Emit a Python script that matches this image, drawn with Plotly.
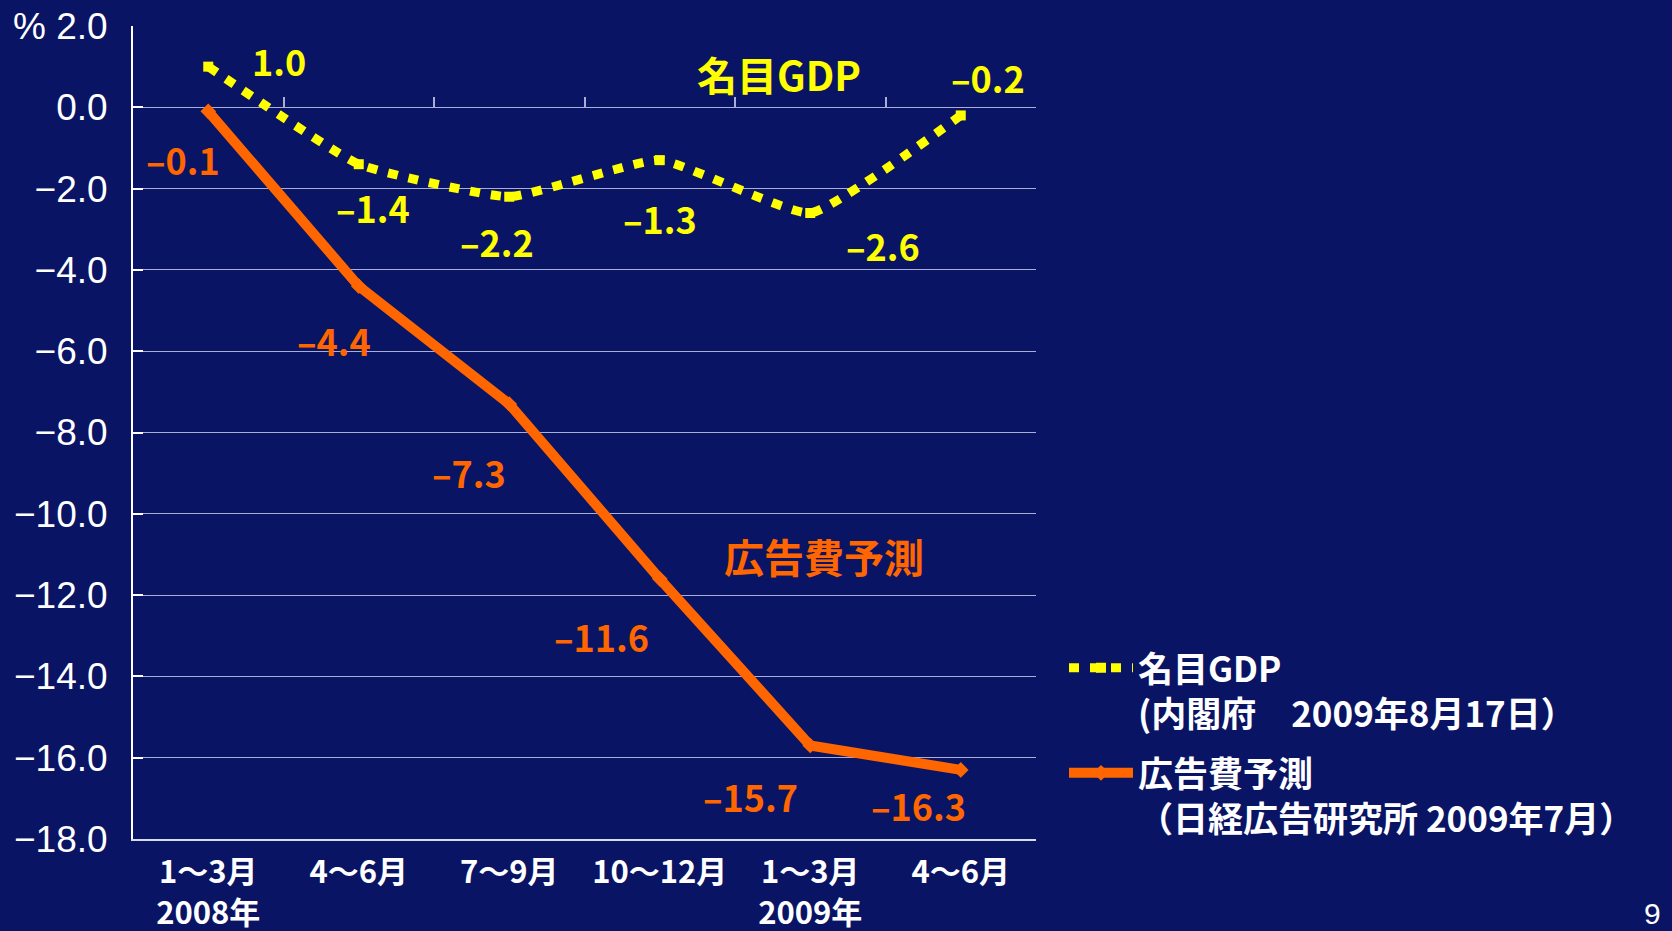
import plotly.graph_objects as go

categories = ["2008Q1", "2008Q2", "2008Q3", "2008Q4", "2009Q1", "2009Q2"]
tick_labels = ["1〜3月<br>2008年", "4〜6月", "7〜9月", "10〜12月", "1〜3月<br>2009年", "4〜6月"]
gdp = [1.0, -1.4, -2.2, -1.3, -2.6, -0.2]
ad = [-0.1, -4.4, -7.3, -11.6, -15.7, -16.3]
y_ticks = [2, 0, -2, -4, -6, -8, -10, -12, -14, -16, -18]

gdp_name = "名目GDP<br>(内閣府　2009年8月17日）"
ad_name = "広告費予測<br>（日経広告研究所 2009年7月）"

BG = "#0a1464"
YEL = "#ffff00"
ORG = "#ff6600"
GRID = "#a9aed6"
JP = "Noto Sans CJK JP"

def fmt(v):
    s = f"{abs(v):.1f}"
    return ("–" + s) if v < 0 else s

def ytxt(v):
    s = f"{abs(v):.1f}"
    if v < 0:
        s = "−" + s
    if v == 2:
        s = "% " + s
    return s

fig = go.Figure()
fig.add_trace(go.Scatter(
    x=categories, y=gdp, name=gdp_name, mode="lines+markers",
    line=dict(color=YEL, width=9, dash="10px,11px", shape="spline", smoothing=0.4),
    marker=dict(symbol="square", size=10, color=YEL),
    xaxis="x2", yaxis="y", legendgroup="g1",
))
fig.add_trace(go.Scatter(
    x=categories, y=ad, name=ad_name, mode="lines+markers",
    line=dict(color=ORG, width=10),
    marker=dict(symbol="diamond", size=12, color=ORG),
    legendgroup="g2",
))

# data labels: offsets in px
gdp_off = [(71, 7), (14, -43), (-12, -44), (0, -58), (73, -32), (27, 38)]
ad_off = [(-25, -48), (-25, -54), (-40, -68), (-58, -57), (-60, -50), (-42, -35)]
ann = []
for c, v, (dx, dy) in zip(categories, gdp, gdp_off):
    ann.append(dict(x=c, y=v, xref="x", yref="y", text=f"<b>{fmt(v)}</b>", showarrow=False,
                    xshift=dx, yshift=dy, font=dict(family=JP, size=36, color=YEL)))
for c, v, (dx, dy) in zip(categories, ad, ad_off):
    ann.append(dict(x=c, y=v, xref="x", yref="y", text=f"<b>{fmt(v)}</b>", showarrow=False,
                    xshift=dx, yshift=dy, font=dict(family=JP, size=36, color=ORG)))
ann.append(dict(x=3.79, y=0.83, xref="x", yref="y", text="<b>名目GDP</b>", showarrow=False,
                font=dict(family=JP, size=40, color=YEL)))
ann.append(dict(x=4.09, y=-11.03, xref="x", yref="y", text="<b>広告費予測</b>", showarrow=False,
                font=dict(family=JP, size=40, color=ORG)))
ann.append(dict(x=1.683, y=-0.092, xref="paper", yref="paper", xanchor="center", yanchor="middle",
                text="9", showarrow=False,
                font=dict(family="Liberation Sans", size=30, color="white")))

fig.update_layout(
    width=1672, height=931,
    margin=dict(l=133, r=636, t=26, b=92, autoexpand=False),
    paper_bgcolor=BG, plot_bgcolor=BG,
    showlegend=True,
    legend=dict(x=1.031, xanchor="left", y=0.2465, yanchor="top", valign="top",
                font=dict(family=JP, size=35, color="white", weight="bold"),
                bgcolor="rgba(0,0,0,0)", tracegroupgap=11, itemwidth=64),
    annotations=ann,
    xaxis=dict(type="category", categoryarray=categories, range=[-0.5, 5.5],
               tickvals=categories, ticktext=[f"<b>{t}</b>" for t in tick_labels],
               tickfont=dict(family=JP, size=31, color="white"), automargin=False,
               showline=True, linecolor="#d8dbef", linewidth=2, showgrid=False,
               ticks="", ticklabelstandoff=5, zeroline=False),
    xaxis2=dict(type="category", categoryarray=categories, range=[-0.5, 5.5],
                overlaying="x", anchor="free", position=0.9, side="bottom", automargin=False,
                ticks="inside", tickson="boundaries", ticklen=10, tickcolor=GRID, tickwidth=1.5,
                showticklabels=False, showline=False, showgrid=False, zeroline=False),
    yaxis=dict(range=[-18, 2], tickvals=y_ticks, ticktext=[ytxt(v) for v in y_ticks],
               tickfont=dict(family="Liberation Sans", size=37, color="white"), automargin=False,
               showline=True, linecolor="white", linewidth=2,
               showgrid=True, gridcolor=GRID, gridwidth=1,
               ticks="inside", ticklen=10, tickcolor="white", tickwidth=1.5,
               ticklabelstandoff=16, zeroline=False),
)

fig.write_html("out.html", config={"displayModeBar": False},
               post_script="document.body.style.margin='0';document.body.style.background='%s';" % BG)
